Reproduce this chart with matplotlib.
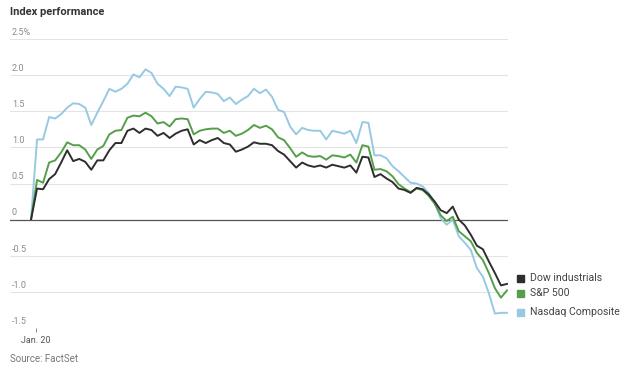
"""
Index performance, intraday (Jan. 20)
"""

import matplotlib.pyplot as plt
import numpy as np

plt.rcParams['font.family'] = ['Roboto', 'DejaVu Sans']

# percent change from prior close, roughly 5-minute steps through the session
dow = [0, 0.43, 0.42, 0.56, 0.63, 0.79, 0.96, 0.81, 0.84, 0.80,
       0.69, 0.82, 0.82, 0.96, 1.06, 1.06, 1.23, 1.26, 1.20, 1.26,
       1.24, 1.16, 1.20, 1.13, 1.19, 1.23, 1.25, 1.04, 1.10, 1.06,
       1.10, 1.13, 1.06, 1.04, 0.94, 0.97, 1.01, 1.07, 1.05, 1.05,
       1.03, 0.95, 0.90, 0.81, 0.72, 0.79, 0.75, 0.73, 0.75, 0.72,
       0.76, 0.74, 0.72, 0.75, 0.65, 0.87, 0.86, 0.59, 0.63, 0.57,
       0.52, 0.43, 0.41, 0.37, 0.44, 0.42, 0.35, 0.25, 0.13, 0.09,
       0.18, 0.00, -0.08, -0.21, -0.36, -0.41, -0.58, -0.74, -0.91, -0.89]

sp500 = [0, 0.55, 0.51, 0.79, 0.82, 0.93, 1.07, 1.03, 1.03, 0.97,
         0.84, 0.97, 1.02, 1.18, 1.23, 1.24, 1.41, 1.44, 1.43, 1.48,
         1.43, 1.33, 1.35, 1.29, 1.39, 1.40, 1.39, 1.18, 1.23, 1.25,
         1.26, 1.26, 1.20, 1.23, 1.16, 1.19, 1.24, 1.31, 1.27, 1.30,
         1.25, 1.14, 1.10, 0.99, 0.87, 0.93, 0.88, 0.87, 0.88, 0.83,
         0.89, 0.88, 0.86, 0.90, 0.79, 1.03, 1.01, 0.69, 0.70, 0.67,
         0.60, 0.49, 0.43, 0.38, 0.43, 0.41, 0.33, 0.22, 0.06, -0.02,
         0.04, -0.16, -0.23, -0.30, -0.46, -0.56, -0.74, -0.95, -1.08, -0.98]

nasdaq = [0, 1.11, 1.11, 1.42, 1.40, 1.46, 1.55, 1.61, 1.60, 1.55,
          1.31, 1.48, 1.64, 1.81, 1.77, 1.81, 1.88, 2.01, 1.97, 2.08,
          2.03, 1.88, 1.81, 1.71, 1.84, 1.83, 1.81, 1.55, 1.67, 1.77,
          1.76, 1.74, 1.64, 1.69, 1.60, 1.66, 1.71, 1.81, 1.75, 1.80,
          1.70, 1.52, 1.49, 1.29, 1.18, 1.27, 1.24, 1.23, 1.23, 1.11,
          1.23, 1.21, 1.19, 1.23, 1.06, 1.35, 1.34, 0.89, 0.89, 0.85,
          0.74, 0.67, 0.59, 0.51, 0.50, 0.46, 0.37, 0.23, 0.02, -0.07,
          0.00, -0.23, -0.32, -0.42, -0.67, -0.79, -1.02, -1.30, -1.29, -1.29]

series_names = ['Dow industrials', 'S&P 500', 'Nasdaq Composite']
y_ticks = [2.5, 2.0, 1.5, 1.0, 0.5, 0, -0.5, -1.0, -1.5]
y_labels = ['2.5%', '2.0', '1.5', '1.0', '0.5', '0', '-0.5', '-1.0', '-1.5']

c_dow = '#2e2e2e'
c_sp = '#559f4a'
c_nas = '#97c9e3'

steps = np.arange(len(dow))

fig = plt.figure(figsize=(6.3, 3.73), dpi=100)
ax = fig.add_axes([10 / 630, 45 / 373, 498 / 630, 289 / 373])

ax.set_xlim(-3.49, 79.17)
ax.set_ylim(-1.5, 2.5)

# grid lines + labels sitting on top of them
for v, lab in zip(y_ticks, y_labels):
    if v == 0:
        ax.axhline(v, color='#555555', linewidth=0.9, zorder=1)
    else:
        ax.axhline(v, color='#e4e4e4', linewidth=0.8, zorder=0)
    ax.text(0.004, v + 0.03, lab, transform=ax.get_yaxis_transform(),
            ha='left', va='bottom', fontsize=6.5, color='#8a8a8a')

ax.plot(steps, nasdaq, color=c_nas, linewidth=1.4, zorder=2)
ax.plot(steps, sp500, color=c_sp, linewidth=1.4, zorder=3)
ax.plot(steps, dow, color=c_dow, linewidth=1.4, zorder=4)

for s in ax.spines.values():
    s.set_visible(False)
ax.set_yticks([])
ax.set_xticks([0.83])
ax.set_xticklabels(['Jan. 20'], fontsize=6.5, color='#555555')
ax.tick_params(axis='x', length=3, width=0.6, color='#777777', pad=3)

# legend as coloured squares
legend_y = [278, 293, 312]
for name, col, yy in zip(series_names, [c_dow, c_sp, c_nas], legend_y):
    fig.patches.append(plt.Rectangle((517 / 630, (373 - yy - 3.5) / 373), 7 / 630, 7 / 373,
                                     transform=fig.transFigure, color=col))
    fig.text(530 / 630, (373 - yy) / 373, name, ha='left', va='center',
             fontsize=7.6, color='#444444')

fig.text(10 / 630, (373 - 12) / 373, 'Index performance', ha='left', va='center',
         fontsize=8, fontweight='bold', color='#333333')
fig.text(10 / 630, (373 - 359) / 373, 'Source: FactSet', ha='left', va='center',
         fontsize=7, color='#777777')

plt.savefig('out.png', dpi=100)
